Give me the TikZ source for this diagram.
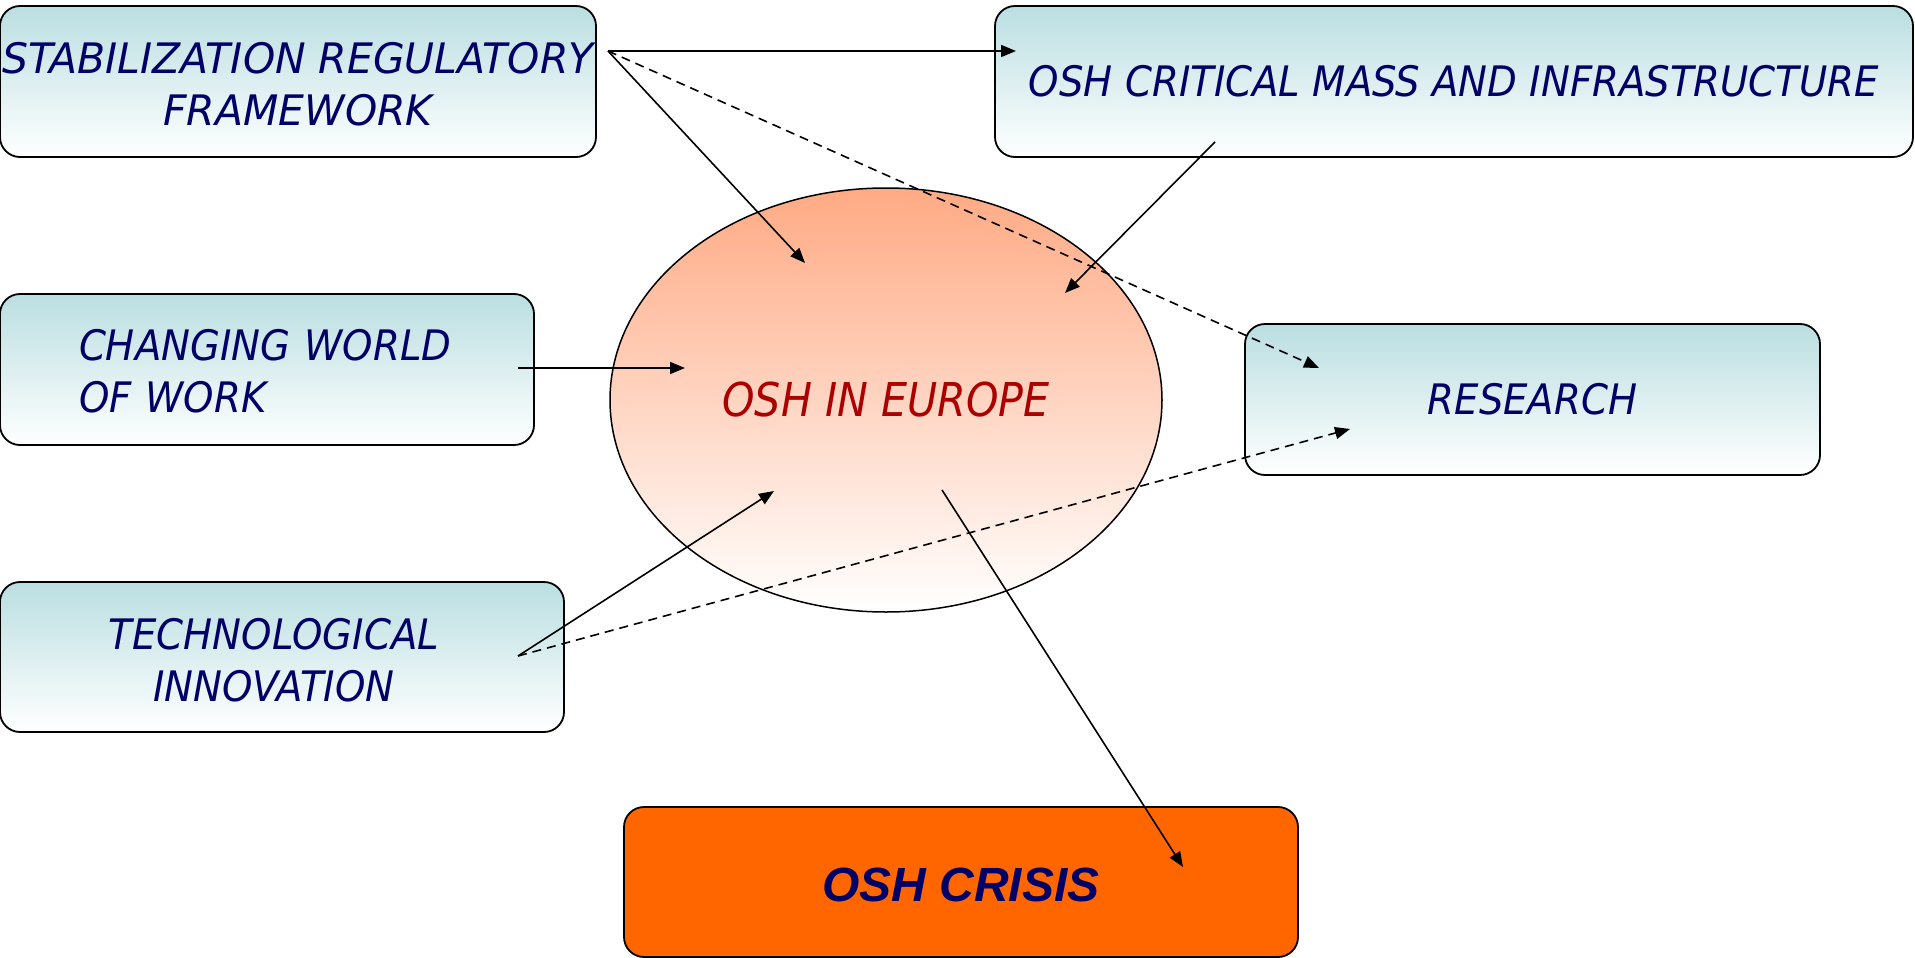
\documentclass[tikz,border=0pt]{standalone}
\usepackage{fontspec}
\usetikzlibrary{arrows.meta,shapes.geometric}
\newfontfamily\labelfont[FakeStretch=0.92]{DejaVu Sans}
\newfontfamily\widelabelfont[FakeStretch=0.975]{DejaVu Sans}
\newfontfamily\hubfont[FakeStretch=0.885]{DejaVu Sans}
\newfontfamily\crisisfont{Liberation Sans}
\definecolor{navy}{RGB}{0,0,102}
\definecolor{darkred}{RGB}{172,0,0}
\definecolor{tealtop}{RGB}{186,222,225}
\definecolor{peach}{RGB}{255,170,132}
\definecolor{crisisfill}{RGB}{255,102,0}
\begin{document}
\begin{tikzpicture}[x=1pt,y=-1pt,
  topic/.style={draw=black, line width=1.8pt, rounded corners=20pt,
    top color=tealtop, bottom color=white, inner sep=0pt, text=navy,
    font=\labelfont\itshape\fontsize{42}{52}\selectfont, align=center},
  twoline/.style={text height=88pt, text depth=0pt},
  hub/.style={ellipse, draw=black, line width=1.5pt, top color=peach,
    bottom color=white, inner sep=0pt, text=darkred,
    font=\hubfont\itshape\fontsize{46.6}{52}\selectfont},
  outcome/.style={draw=black, line width=1.8pt, rounded corners=20pt,
    fill=crisisfill, inner sep=0pt, text=navy,
    text height=39.5pt, text depth=0pt,
    font=\crisisfont\bfseries\itshape\fontsize{48}{56}\selectfont},
  link/.style={line width=1.6pt, -{Triangle[length=15pt,width=12pt]}},
  weaklink/.style={link, dash pattern=on 9pt off 6pt}]
\useasboundingbox (0,0) rectangle (1915,958);

% factor boxes
\node[topic, twoline, minimum width=596, minimum height=151,
  font=\widelabelfont\itshape\fontsize{42}{52}\selectfont] (stab) at (298,81.5)
  {STABILIZATION REGULATORY\\FRAMEWORK};
\node[topic, minimum width=918, minimum height=151] (mass) at (1454,81.5)
  {OSH CRITICAL MASS AND INFRASTRUCTURE};
\node[topic, minimum width=534, minimum height=151, align=left,
  text width=376, text height=34pt, text depth=52pt] (world) at (267,369.5)
  {CHANGING WORLD\\OF WORK};
\node[topic, twoline, minimum width=564, minimum height=150] (tech) at (282,657)
  {TECHNOLOGICAL\kern16pt\\INNOVATION\kern16pt};
\node[topic, minimum width=575, minimum height=151] (research) at (1532.5,399.5)
  {RESEARCH};

% central ellipse and outcome
\node[hub, minimum width=552, minimum height=424] (europe) at (886,400)
  {OSH IN EUROPE};
\node[outcome, minimum width=674, minimum height=150] (crisis) at (961,882)
  {OSH CRISIS};

% connector end points
\coordinate (stabOut) at (608,51);
\coordinate (massIn) at (1016,51);
\coordinate (euTop) at (805,263);
\coordinate (resTop) at (1319,368);
\coordinate (massOut) at (1215,142);
\coordinate (euRight) at (1065,293);
\coordinate (worldOut) at (518,368);
\coordinate (euLeft) at (685,368);
\coordinate (techOut) at (518,656);
\coordinate (euLow) at (774,491);
\coordinate (resLow) at (1350,429);
\coordinate (euOut) at (942,490);
\coordinate (crisisIn) at (1183,867);

\draw[link] (stabOut) -- (massIn);
\draw[link] (stabOut) -- (euTop);
\draw[weaklink] (stabOut) -- (resTop);
\draw[link] (massOut) -- (euRight);
\draw[link] (worldOut) -- (euLeft);
\draw[link] (techOut) -- (euLow);
\draw[weaklink] (techOut) -- (resLow);
\draw[link] (euOut) -- (crisisIn);
\end{tikzpicture}
\end{document}
